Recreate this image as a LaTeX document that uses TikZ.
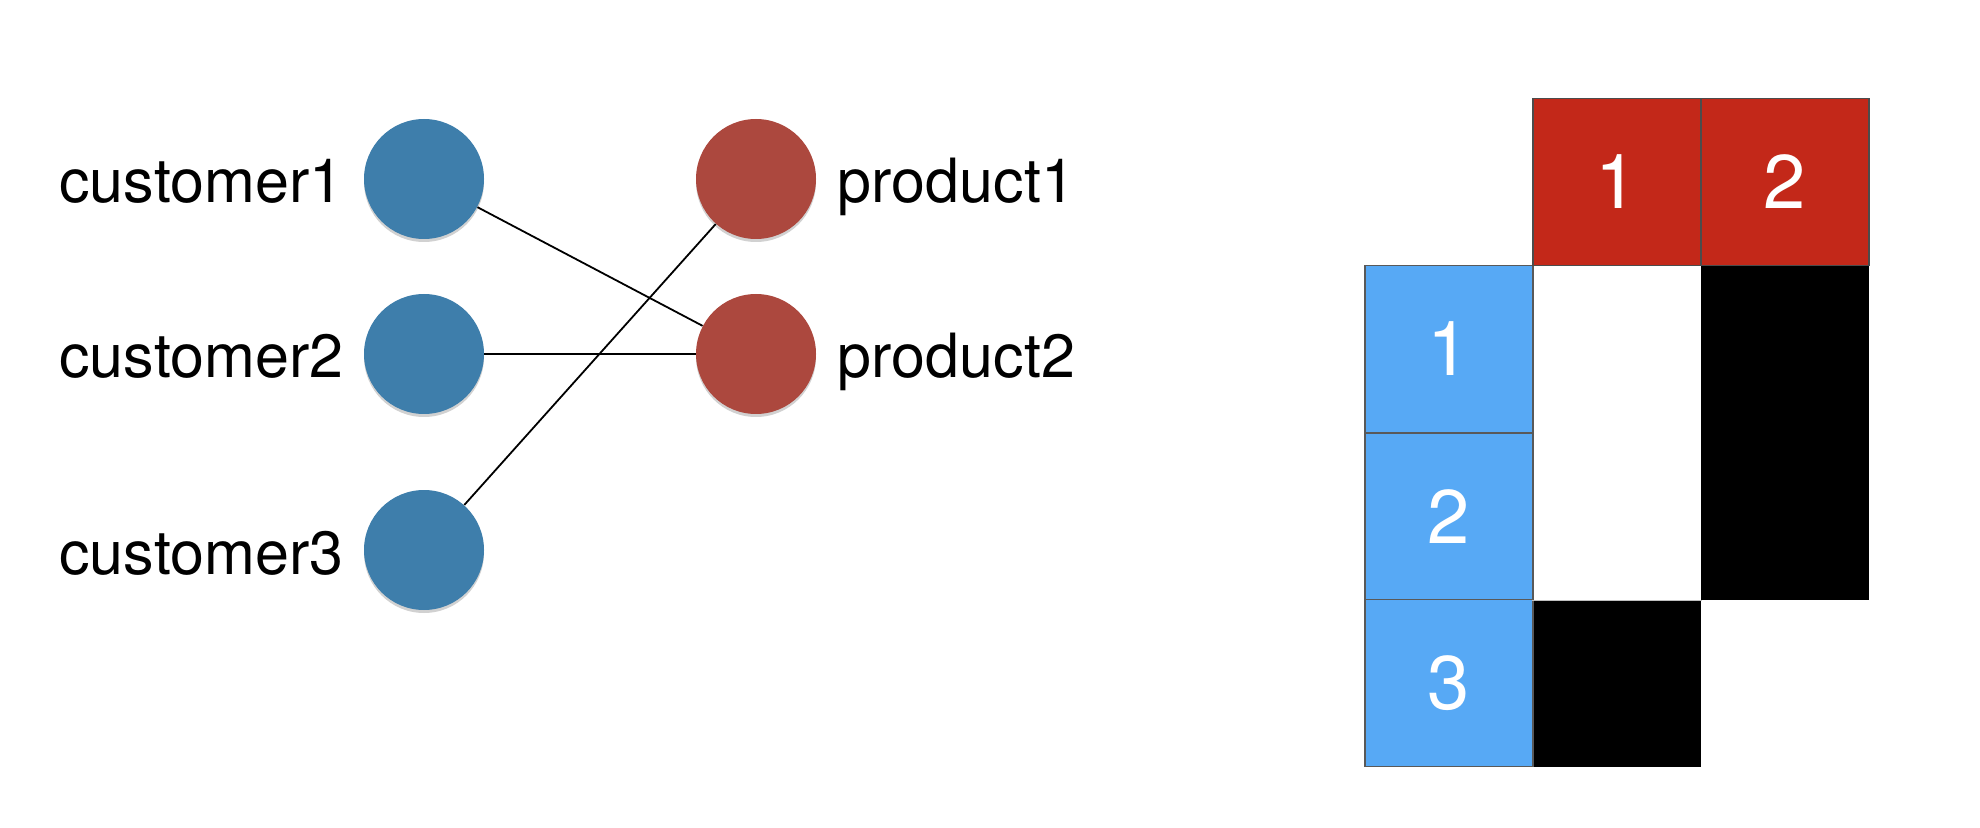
\documentclass[tikz,border=0pt]{standalone}
\usepackage{fontspec}
\setmainfont{TeX Gyre Heros}
\usetikzlibrary{shadows}
\definecolor{custblue}{RGB}{62,126,171}
\definecolor{prodred}{RGB}{172,72,62}
\definecolor{hdrred}{RGB}{195,40,25}
\definecolor{rowblue}{RGB}{87,169,245}
\tikzset{
  vtx/.style={circle, minimum size=60pt, inner sep=0pt, draw=none,
    drop shadow={shadow xshift=0pt, shadow yshift=-1.5pt, opacity=0.18, fill=black}},
  cust/.style={vtx, fill=custblue},
  prod/.style={vtx, fill=prodred},
  lbl/.style={inner sep=0pt, font=\fontsize{30.5}{36}\selectfont, text=black},
  edge/.style={draw=black, line width=0.9pt},
  cell/.style={rectangle, minimum width=84pt, minimum height=83.5pt, inner sep=0pt,
    font=\fontsize{38}{45}\selectfont, text=white, line width=0.6pt},
  hdr/.style={cell, fill=hdrred, draw=black!70},
  rowh/.style={cell, fill=rowblue, draw=black!65},
  emptyc/.style={cell, fill=white, draw=none},
  fullc/.style={cell, fill=black, draw=none}
}
\begin{document}
\begin{tikzpicture}[x=0.5pt, y=-0.5pt]
\useasboundingbox (0,0) rectangle (1980,828);
% bipartite graph
\node[cust] (c1) at (424,179) {};
\node[cust] (c2) at (424,354) {};
\node[cust] (c3) at (424,550) {};
\node[prod] (p1) at (756,179) {};
\node[prod] (p2) at (756,354) {};
\node[lbl, anchor=base east] (tc1) at ([xshift=-10pt, yshift=-12pt]c1.west) {customer1};
\node[lbl, anchor=base east] (tc2) at ([xshift=-10pt, yshift=-12pt]c2.west) {customer2};
\node[lbl, anchor=base east] (tc3) at ([xshift=-10pt, yshift=-12pt]c3.west) {customer3};
\node[lbl, anchor=base west] (tp1) at ([xshift=10.5pt, yshift=-12pt]p1.east) {product1};
\node[lbl, anchor=base west] (tp2) at ([xshift=10.5pt, yshift=-12pt]p2.east) {product2};
\draw[edge] (c1) -- (p2);
\draw[edge] (c2) -- (p2);
\draw[edge] (c3) -- (p1);
% matrix
\node[emptyc] (m11) at (1617,349) {};
\node[emptyc] (m21) at (1617,516.5) {};
\node[fullc] (m12) at (1785,349) {};
\node[fullc] (m22) at (1785,516.5) {};
\node[fullc] (m31) at (1617,683) {};
\node[rowh] (r1) at (1449,349) {1};
\node[rowh] (r2) at (1449,516.5) {2};
\node[rowh] (r3) at (1449,683) {3};
\node[hdr] (h1) at (1617,182) {1};
\node[hdr] (h2) at (1785,182) {2};
\draw[draw=black!25, line width=0.6pt] (m21.south west) -- (m21.south east);
\end{tikzpicture}
\end{document}
